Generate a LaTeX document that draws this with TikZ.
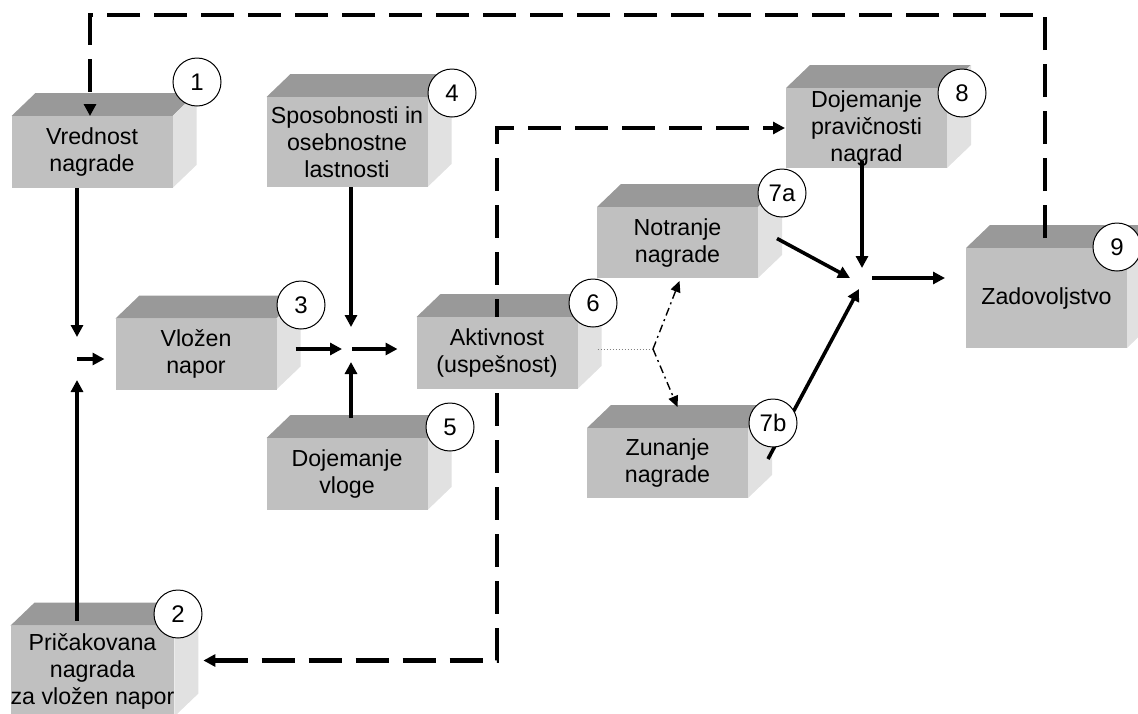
\documentclass[tikz,border=0pt]{standalone}
\usepackage{fontspec}
\setmainfont{Liberation Sans}
\usetikzlibrary{arrows.meta,calc}
\definecolor{frontgray}{HTML}{C0C0C0}
\definecolor{topgray}{HTML}{999999}
\definecolor{sidegray}{HTML}{E1E1E1}
\pgfdeclarelayer{faces}
\pgfdeclarelayer{links}
\pgfdeclarelayer{fore}
\pgfsetlayers{faces,links,main,fore}

% top and right faces of a block whose front face is node #1
\newcommand\cubefaces[1]{%
  \fill[topgray] (#1.north west) -- ++(24,-23) -- ($(#1.north east)+(24,-23)$) -- (#1.north east) -- cycle;
  \fill[sidegray] (#1.north east) -- ++(24,-23) -- ($(#1.south east)+(24,-23)$) -- (#1.south east) -- cycle;
}

\begin{document}
\begin{tikzpicture}[x=1pt,y=-1pt,
  frontbox/.style={rectangle, fill=frontgray, inner sep=0pt, outer sep=0pt,
    minimum width=161pt, align=center, font=\fontsize{23.2}{27}\selectfont},
  numcircle/.style={circle, draw, fill=white, line width=1pt, minimum size=48pt,
    inner sep=0pt, font=\fontsize{24}{24}\selectfont},
  arr/.style={line width=3.6pt, -{Triangle[length=12pt,width=12pt]}},
  dlink/.style={line width=4.2pt, dash pattern=on 33pt off 14pt},
  dotlink/.style={gray, line width=1pt, dash pattern=on 1.5pt off 1.5pt},
  dotarr/.style={line width=1.4pt, dash pattern=on 8pt off 4pt on 2pt off 4pt,
    -{Triangle[length=11pt,width=10pt]}}]

\useasboundingbox (0,0) rectangle (1138,713);

% front faces with their labels
\node[frontbox, minimum height=72pt] (b1) at (92,152) {Vrednost\\nagrade};
\node[frontbox, minimum height=91pt] (b2) at (92.5,671) {Pričakovana\\nagrada\\za vložen napor};
\node[frontbox, minimum height=71pt] (b3) at (196,354) {Vložen\\napor};
\node[frontbox, minimum height=90pt] (b4) at (347,142) {Sposobnosti in\\osebnostne\\lastnosti};
\node[frontbox, minimum height=72pt] (b5) at (347,474) {Dojemanje\\vloge};
\node[frontbox, minimum height=72pt] (b6) at (497,353) {Aktivnost\\(uspešnost)};
\node[frontbox, minimum height=71pt] (b7a) at (677.5,242.5) {Notranje\\nagrade};
\node[frontbox, minimum height=70pt] (b7b) at (667.5,463) {Zunanje\\nagrade};
\node[frontbox, minimum height=80pt] (b8) at (866.5,128) {Dojemanje\\pravičnosti\\nagrad};
\node[frontbox, minimum height=100pt] (b9) at (1046.5,298) {Zadovoljstvo};

\begin{pgfonlayer}{faces}
  \cubefaces{b1}\cubefaces{b2}\cubefaces{b3}\cubefaces{b4}\cubefaces{b5}
  \cubefaces{b6}\cubefaces{b7a}\cubefaces{b7b}\cubefaces{b8}\cubefaces{b9}
\end{pgfonlayer}

% junctions
\coordinate (j1) at (77,359);
\coordinate (j2) at (351,349);
\coordinate (j3) at (653,349);
\coordinate (j4) at (861,280);
\coordinate (top) at (0,15);

% dashed feedback loops
\coordinate (d9) at ($(b9.north)+(-1.5,-10)$);
\coordinate (d1) at ($(b1.north)+(-2,0)$);
\coordinate (d2) at ($(b2.east)+(29,-10.5)$);
\coordinate (d8) at ($(b8.west)+(-1,0)$);
\begin{pgfonlayer}{links}
  \draw[dlink, -{Triangle[length=12pt,width=12pt]}] (d9) -- (d9 |- top) -| (d1);
  \draw[dlink, {Triangle[length=12pt,width=12pt]}-{Triangle[length=12pt,width=12pt]}]
    (d2) -| (b6.center |- d8) -- (d8);
\end{pgfonlayer}

\begin{pgfonlayer}{fore}
  % effort
  \draw[arr] (j1 |- b1.south) -- ($(j1)+(0,-22)$);
  \draw[arr] ($(j1 |- b2.north)+(0,-5)$) -- ($(j1)+(0,21)$);
  \draw[arr] (j1) -- ($(b3.west |- j1)+(-11,0)$);
  % performance
  \draw[arr] ($(b3.east |- j2)+(19,0)$) -- ($(j2)+(-9,0)$);
  \draw[arr] (j2 |- b4.south) -- ($(j2)+(0,-22)$);
  \draw[arr] ($(j2 |- b5.north)+(0,-20)$) -- ($(j2)+(0,13)$);
  \draw[arr] ($(j2)+(1,0)$) -- ($(b6.west |- j2)+(-19,0)$);
  % rewards
  \draw[dotlink] ($(b6.east |- j3)+(20,0)$) -- (j3);
  \draw[dotarr] (j3) -- ($(b7a.south)+(2,3)$);
  \draw[dotarr] (j3) -- ($(b7b.north)+(10,-21)$);
  % satisfaction
  \draw[arr] ($(b7a.east)+(19,-4)$) -- ($(j4)+(-11,-2)$);
  \draw[arr] ($(b8.south)+(-4.5,-7)$) -- ($(j4)+(1,-12)$);
  \draw[arr] ($(b7b.east)+(20,-4)$) -- ($(j4)+(-2,9)$);
  \draw[arr] ($(j4)+(11,-2)$) -- ($(b9.west |- j4)+(-21,-2)$);

  % numbers
  \node[numcircle] (n1) at (197,82) {1};
  \node[numcircle] (n2) at (178,614) {2};
  \node[numcircle] (n3) at (301,305) {3};
  \node[numcircle] (n4) at (452,93) {4};
  \node[numcircle] (n5) at (450,427) {5};
  \node[numcircle] (n6) at (593,303) {6};
  \node[numcircle] (n7a) at (782,193) {7a};
  \node[numcircle] (n7b) at (773,423) {7b};
  \node[numcircle] (n8) at (962,93) {8};
  \node[numcircle] (n9) at (1117,247) {9};
\end{pgfonlayer}
\end{tikzpicture}
\end{document}
